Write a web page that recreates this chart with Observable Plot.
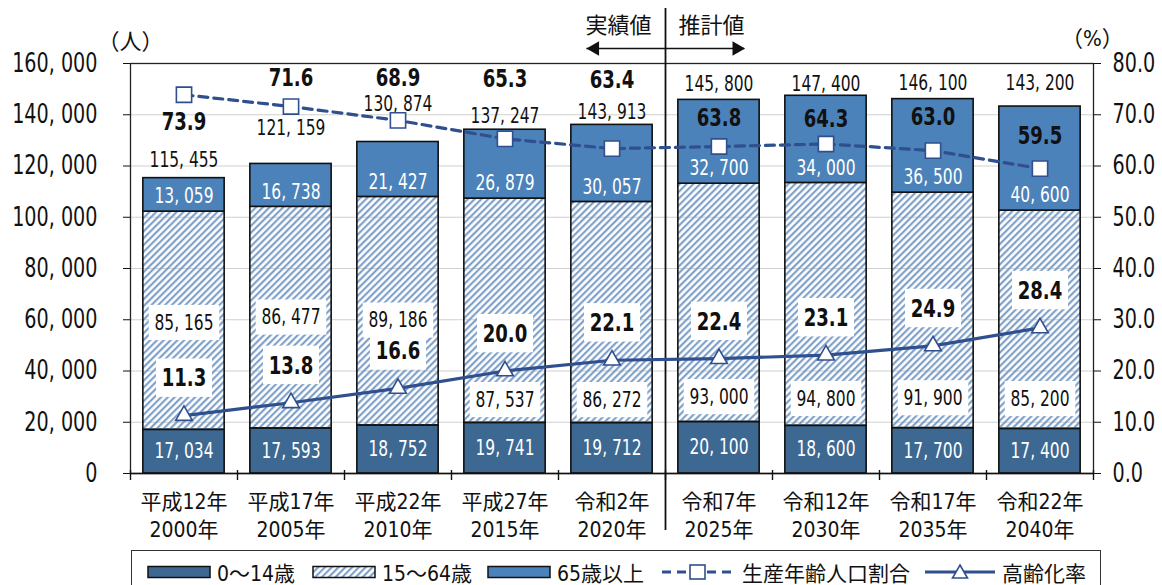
<!DOCTYPE html>
<html><head><meta charset="utf-8">
<script src="https://cdn.jsdelivr.net/npm/d3@7"></script>
<script src="https://cdn.jsdelivr.net/npm/@observablehq/plot@0.6"></script>
<style>
html,body{margin:0;padding:0;background:#fff;}
body{width:1162px;height:585px;overflow:hidden;position:relative;font-family:"DejaVu Sans Condensed","Noto Sans CJK JP",sans-serif;color:#111;}
#chart{position:absolute;left:0;top:0;}
#legend{position:absolute;left:131px;top:550px;width:970px;height:60px;border:1.5px solid #333;box-sizing:border-box;background:#fff;}
.li{position:absolute;top:8px;height:26px;display:flex;align-items:center;font-size:21px;white-space:nowrap;}
.li svg{display:block;}
</style></head><body>
<div id="chart"></div>
<div id="legend"></div>
<script>
// ---------------- data ----------------
const categories = ["平成12年\n2000年","平成17年\n2005年","平成22年\n2010年","平成27年\n2015年","令和2年\n2020年","令和7年\n2025年","令和12年\n2030年","令和17年\n2035年","令和22年\n2040年"];
const age0to14  = [17034, 17593, 18752, 19741, 19712, 20100, 18600, 17700, 17400];
const age15to64 = [85165, 86477, 89186, 87537, 86272, 93000, 94800, 91900, 85200];
const age65plus = [13059, 16738, 21427, 26879, 30057, 32700, 34000, 36500, 40600];
const totals    = [115455, 121159, 130874, 137247, 143913, 145800, 147400, 146100, 143200];
const workingAgeShare = [73.9, 71.6, 68.9, 65.3, 63.4, 63.8, 64.3, 63.0, 59.5]; // 生産年齢人口割合 (%)
const agingRate       = [11.3, 13.8, 16.6, 20.0, 22.1, 22.4, 23.1, 24.9, 28.4]; // 高齢化率 (%)
const yTicks   = [0, 20000, 40000, 60000, 80000, 100000, 120000, 140000, 160000];
const pctTicks = [0, 10, 20, 30, 40, 50, 60, 70, 80];
const seriesNames = ["0〜14歳", "15〜64歳", "65歳以上", "生産年齢人口割合", "高齢化率"];
const periodNames = ["実績値", "推計値"];
const unitLeft = "（人）", unitRight = "（%）";

// ---------------- styling ----------------
const DARK = "#3c6892", MID = "#4c82ba", NAVY = "#2f4f8e", STRIPE = "#7398c3";
const INK = "#111111", BOXED = "#101010";
const FONT = '"DejaVu Sans Condensed","Noto Sans CJK JP",sans-serif';
const PCT = 2000; // right axis (%) -> left axis units: 80% = 160,000
const H = 550, MT = 63, MB = H - 473;
const K = 160000 / (H - MT - MB); // data units per pixel
const px = p => p * K;
const fmt = v => d3.format(",")(v).replace(/,/g, ", ");
const SQUEEZE = 0.82; // horizontal condensing of numeric labels

const rows = categories.map((c, i) => ({
  i, a: age0to14[i], b: age15to64[i], c: age65plus[i], t: totals[i],
  w: workingAgeShare[i], g: agingRate[i]
}));
const HW = 0.38; // half bar width in category units

// label lifts (pixels) used to place annotations clear of the lines
const totalLift = [18, 36, 38, 13, 13, 16, 12, 16, 23];
const workLift  = [-27, 28, 42, 60, 68, 28, 25, 33, 32];
const midLift   = [107, 111, 105, 23, 23, 25, 27, 30, 30];

const split = 4.5; // boundary between 実績値 and 推計値

const plot = Plot.plot({
  width: 1162, height: H,
  marginLeft: 130, marginRight: 69, marginTop: MT, marginBottom: MB,
  style: {fontFamily: FONT, background: "white", color: INK, overflow: "visible"},
  x: {domain: [-0.5, 8.5], axis: null},
  y: {domain: [0, 160000], axis: null},
  marks: [
    Plot.gridY(yTicks, {stroke: "#d0d0d0", strokeOpacity: 1, strokeWidth: 1.2}),
    // bars
    Plot.rect(rows, {x1: d => d.i - HW, x2: d => d.i + HW, y1: 0, y2: d => d.a, fill: DARK, stroke: INK, strokeWidth: 1.6}),
    Plot.rect(rows, {x1: d => d.i - HW, x2: d => d.i + HW, y1: d => d.a, y2: d => d.a + d.b, fill: "url(#hatch)", stroke: INK, strokeWidth: 1.6}),
    Plot.rect(rows, {x1: d => d.i - HW, x2: d => d.i + HW, y1: d => d.a + d.b, y2: d => d.a + d.b + d.c, fill: MID, stroke: INK, strokeWidth: 1.6}),
    Plot.frame({stroke: "#222", strokeWidth: 1.3}),
    // axes
    Plot.axisY(yTicks, {anchor: "left", tickFormat: fmt, tickSize: 7, tickPadding: 26, fontSize: 26, stroke: INK, label: null}),
    Plot.axisY(pctTicks.map(p => p * PCT), {anchor: "right", tickFormat: d => (d / PCT).toFixed(1), tickSize: 7, tickPadding: 12, fontSize: 26, stroke: INK, label: null}),
    Plot.ruleY([0], {stroke: INK, strokeWidth: 1.6}),
    Plot.ruleX(d3.range(10).map(i => i - 0.5), {y1: px(3), y2: px(-7), stroke: INK, strokeWidth: 1.4}),
    Plot.axisX(d3.range(9), {anchor: "bottom", tickFormat: i => categories[i], tickSize: 0, tickPadding: 16, fontSize: 21, lineHeight: 1.33, label: null}),
    // period separator and arrows
    Plot.ruleX([split], {y1: px(-57), y2: px(465), stroke: INK, strokeWidth: 1.8}),
    Plot.ruleY([px(425)], {x1: 3.765, x2: split, stroke: INK, strokeWidth: 1.4}),
    Plot.ruleY([px(425)], {x1: split, x2: 5.24, stroke: INK, strokeWidth: 1.4}),
    Plot.dot([3.765], {x: d => d, y: px(425), symbol: "triangle", r: 5.4, rotate: -90, fill: INK, stroke: "none", dx: 8}),
    Plot.dot([5.24], {x: d => d, y: px(425), symbol: "triangle", r: 5.4, rotate: 90, fill: INK, stroke: "none", dx: -8}),
    Plot.text([periodNames[0]], {x: 4.06, y: px(448), text: d => d, fontSize: 22, fill: INK}),
    Plot.text([periodNames[1]], {x: 4.93, y: px(448), text: d => d, fontSize: 22, fill: INK}),
    Plot.text([unitLeft], {x: -0.5, y: px(432), text: d => d, fontSize: 22, fill: INK}),
    Plot.text([unitRight], {x: 8.49, y: px(435), text: d => d, fontSize: 22, fill: INK}),
    // segment labels
    Plot.text(rows, {x: "i", y: d => d.a / 2, text: d => fmt(d.a), fill: "white", fontSize: 21}),
    Plot.text(rows, {x: "i", y: d => d.a + d.b + px(15), text: d => fmt(d.c), fill: "white", fontSize: 21}),
    Plot.text(rows, {x: "i", y: d => d.a + d.b + d.c + px(totalLift[d.i]), text: d => fmt(d.t), fill: INK, fontSize: 21}),
    // lines
    Plot.line(rows, {x: "i", y: d => d.w * PCT, stroke: NAVY, strokeWidth: 3.2, strokeDasharray: "9,6"}),
    Plot.dot(rows, {x: "i", y: d => d.w * PCT, symbol: "square", r: 8.6, fill: "white", stroke: NAVY, strokeWidth: 1.6}),
    Plot.line(rows, {x: "i", y: d => d.g * PCT, stroke: NAVY, strokeWidth: 3.2}),
    Plot.dot(rows, {x: "i", y: d => d.g * PCT, symbol: "triangle", r: 6.2, fill: "white", stroke: NAVY, strokeWidth: 1.6}),
    Plot.text(rows, {x: "i", y: d => d.w * PCT + px(workLift[d.i]), text: d => d.w.toFixed(1), fill: INK, fontSize: 24.5, fontWeight: "bold"}),
    // boxed labels
    Plot.text(rows, {x: "i", y: d => d.a + px(midLift[d.i]), text: d => fmt(d.b), fill: BOXED, fontSize: 21}),
    Plot.text(rows, {x: "i", y: d => d.g * PCT + px(37), text: d => d.g.toFixed(1), fill: BOXED, fontSize: 24.5, fontWeight: "bold"})
  ]
});

// hatch pattern
const ns = "http://www.w3.org/2000/svg";
function addHatch(svgEl, id) {
  const defs = d3.select(svgEl).insert("defs", ":first-child");
  const pat = defs.append("pattern").attr("id", id).attr("patternUnits", "userSpaceOnUse")
    .attr("width", 4.8).attr("height", 4.8).attr("patternTransform", "rotate(45)");
  pat.append("line").attr("x1", 1.2).attr("y1", -1).attr("x2", 1.2).attr("y2", 6)
    .attr("stroke", STRIPE).attr("stroke-width", 2.0);
}
addHatch(plot, "hatch");
document.getElementById("chart").appendChild(plot);

// condense numeric labels horizontally (about their anchor point)
plot.querySelectorAll("text").forEach(t => {
  if (!/^[\d.,\s]+$/.test(t.textContent.trim())) return;
  let tr = t.getAttribute("transform") || "";
  const x = t.getAttribute("x");
  if (x != null && /^-?[\d.]+$/.test(x)) { // numeric x: fold it into the translation
    tr += ` translate(${x},0)`;
    t.removeAttribute("x");
  }
  t.setAttribute("transform", `${tr} scale(${SQUEEZE},1)`);
});

// white boxes behind some labels
plot.querySelectorAll(`g[fill="${BOXED}"] text`).forEach(t => {
  const b = t.getBBox();
  const r = document.createElementNS(ns, "rect");
  r.setAttribute("x", b.x - 7); r.setAttribute("y", b.y - 5);
  r.setAttribute("width", b.width + 14); r.setAttribute("height", b.height + 10);
  r.setAttribute("fill", "white");
  if (t.getAttribute("transform")) r.setAttribute("transform", t.getAttribute("transform"));
  t.parentNode.insertBefore(r, t);
});

// legend
const legend = document.getElementById("legend");
const items = [
  {left: 15, sw: `<svg width="64" height="14"><rect x="1" y="1.5" width="62" height="11" fill="${DARK}" stroke="#111" stroke-width="1.5"/></svg>`},
  {left: 180, sw: `<svg width="64" height="14"><defs><pattern id="hatch2" patternUnits="userSpaceOnUse" width="4.8" height="4.8" patternTransform="rotate(45)"><line x1="1.2" y1="-1" x2="1.2" y2="6" stroke="${STRIPE}" stroke-width="2.0"/></pattern></defs><rect x="1" y="1.5" width="62" height="11" fill="url(#hatch2)" stroke="#111" stroke-width="1.5"/></svg>`},
  {left: 355, sw: `<svg width="64" height="14"><rect x="1" y="1.5" width="62" height="11" fill="${MID}" stroke="#111" stroke-width="1.5"/></svg>`},
  {left: 528, sw: `<svg width="76" height="20"><line x1="2" y1="10" x2="74" y2="10" stroke="${NAVY}" stroke-width="3.2" stroke-dasharray="9,6"/><rect x="30" y="3" width="15" height="14" fill="white" stroke="${NAVY}" stroke-width="1.6"/></svg>`},
  {left: 792, sw: `<svg width="72" height="20"><line x1="1" y1="10" x2="71" y2="10" stroke="${NAVY}" stroke-width="3.2"/><path d="M36,3 L43.5,16 L28.5,16 Z" fill="white" stroke="${NAVY}" stroke-width="1.6"/></svg>`}
];
items.forEach((it, k) => {
  const div = document.createElement("div");
  div.className = "li";
  div.style.left = it.left + "px";
  div.innerHTML = it.sw + `<span style="margin-left:6px">${seriesNames[k]}</span>`;
  legend.appendChild(div);
});
</script>
</body></html>
